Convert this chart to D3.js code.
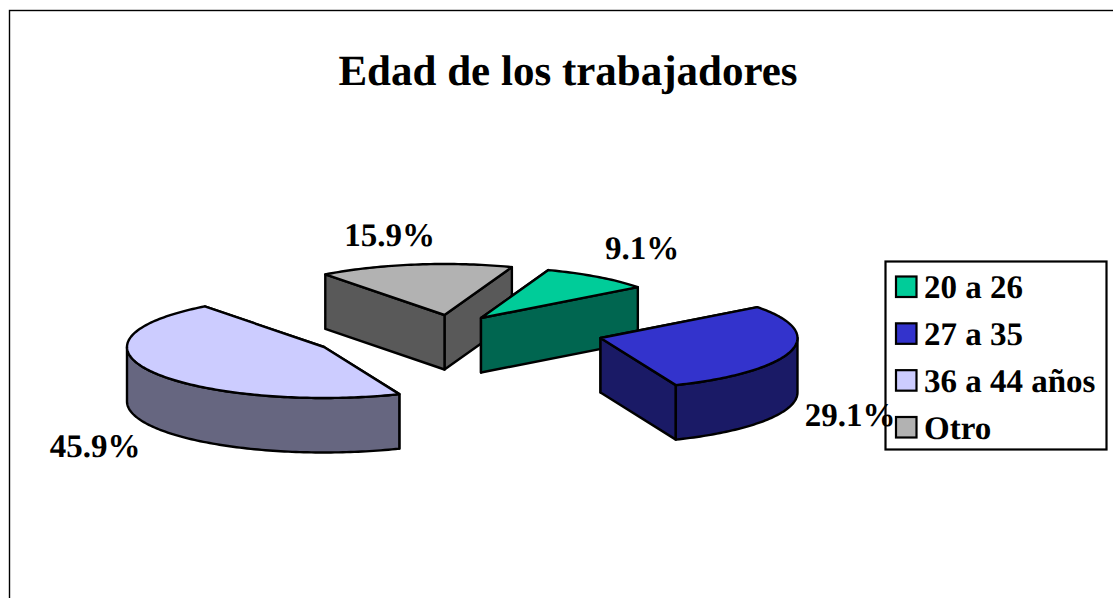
<!DOCTYPE html>
<html>
<head>
<meta charset="utf-8">
<script src="https://cdn.jsdelivr.net/npm/d3@7/dist/d3.min.js"></script>
<style>
html,body{margin:0;padding:0;background:#fff;overflow:hidden;}
svg{display:block;}
text{font-family:"Liberation Serif","Times New Roman",serif;font-weight:bold;fill:#000;text-rendering:geometricPrecision;}
</style>
</head>
<body>
<svg id="c" width="1113" height="598"></svg>
<script>
const titleText = "Edad de los trabajadores";
const categories = ["20 a 26", "27 a 35", "36 a 44 años", "Otro"];
const values = [9.1, 29.1, 45.9, 15.9];
const labels = ["9.1%", "29.1%", "45.9%", "15.9%"];
const topColors = ["#00CC99", "#3333CC", "#CCCCFF", "#B2B2B2"];
const sideColors = ["#006650", "#1A1A66", "#666680", "#595959"];
const drawOrder = [3, 2, 0, 1];

// layout
const W = 1113, H = 598;
const rx = 197, ry = 51, depth = 54.5;
const startDeg = 20;
const apexX = [481, 600.5, 324, 444.5];
const apexY = [318, 338, 347, 315];
const labelX = [642, 850, 95, 389.5];
const labelY = [259, 426, 457, 246];

const svg = d3.select("#c");
svg.append("rect").attr("x", 9.5).attr("y", 10.5).attr("width", 1200).attr("height", 700)
  .attr("fill", "#fff").attr("stroke", "#000").attr("stroke-width", 1.4);

svg.append("text").attr("x", 568).attr("y", 85).attr("text-anchor", "middle")
  .attr("font-size", 43).text(titleText);

const pie = d3.pie().sort(null)
  .startAngle(startDeg * Math.PI / 180)
  .endAngle((startDeg + 360) * Math.PI / 180);
const arcs = pie(values);

const sx = d3.scaleLinear().domain([-1, 1]).range([-rx, rx]);
const sy = d3.scaleLinear().domain([-1, 1]).range([-ry, ry]);
const px = a => sx(Math.sin(a));
const py = a => sy(-Math.cos(a));
const line = d3.line();

function samples(a0, a1) {
  const n = Math.max(2, Math.ceil((a1 - a0) / 0.02));
  return d3.range(n + 1).map(i => a0 + (a1 - a0) * i / n);
}

const stroke = { stroke: "#000", "stroke-width": 2.4, "stroke-linejoin": "round" };
function style(sel, fill) {
  sel.attr("fill", fill);
  for (const k in stroke) sel.attr(k, stroke[k]);
  return sel;
}

drawOrder.forEach(i => {
  const d = arcs[i];
  const g = svg.append("g").attr("transform", `translate(${apexX[i]},${apexY[i]})`);
  // cut walls, back to front
  const walls = [d.startAngle, d.endAngle].sort((a, b) => py(a) - py(b));
  walls.forEach(a => {
    const pts = [[0, 0], [px(a), py(a)], [px(a), py(a) + depth], [0, depth]];
    style(g.append("path").attr("d", line(pts) + "Z"), sideColors[i]);
  });
  // outer rim: only the front half of the ellipse (90deg to 270deg, plus one turn)
  [[Math.PI / 2, 3 * Math.PI / 2], [2.5 * Math.PI, 3.5 * Math.PI]].forEach(([f0, f1]) => {
    const a0 = Math.max(d.startAngle, f0), a1 = Math.min(d.endAngle, f1);
    if (a1 > a0) {
      const top = samples(a0, a1).map(a => [px(a), py(a)]);
      const bot = top.map(p => [p[0], p[1] + depth]).reverse();
      style(g.append("path").attr("d", line(top.concat(bot)) + "Z"), sideColors[i]);
    }
  });
  // top face
  const face = [[0, 0]].concat(samples(d.startAngle, d.endAngle).map(a => [px(a), py(a)]));
  style(g.append("path").attr("d", line(face) + "Z"), topColors[i]);
});

// data labels
labels.forEach((t, i) => {
  svg.append("text").attr("x", labelX[i]).attr("y", labelY[i])
    .attr("text-anchor", "middle").attr("font-size", 33).text(t);
});

// legend
const lgX = 885.5, lgY = 261.5, lgW = 221, lgH = 188;
svg.append("rect").attr("x", lgX).attr("y", lgY).attr("width", lgW).attr("height", lgH)
  .attr("fill", "none").attr("stroke", "#000").attr("stroke-width", 2.2);
const lgRow = d3.scalePoint().domain(categories).range([287, 427.5]);
categories.forEach((c, i) => {
  const y = lgRow(c);
  svg.append("rect").attr("x", 896).attr("y", y - 10.5).attr("width", 20.5).attr("height", 20.5)
    .attr("fill", topColors[i]).attr("stroke", "#000").attr("stroke-width", 2.2);
  svg.append("text").attr("x", 924).attr("y", y + 11).attr("font-size", 33).text(c);
});
</script>
</body>
</html>
